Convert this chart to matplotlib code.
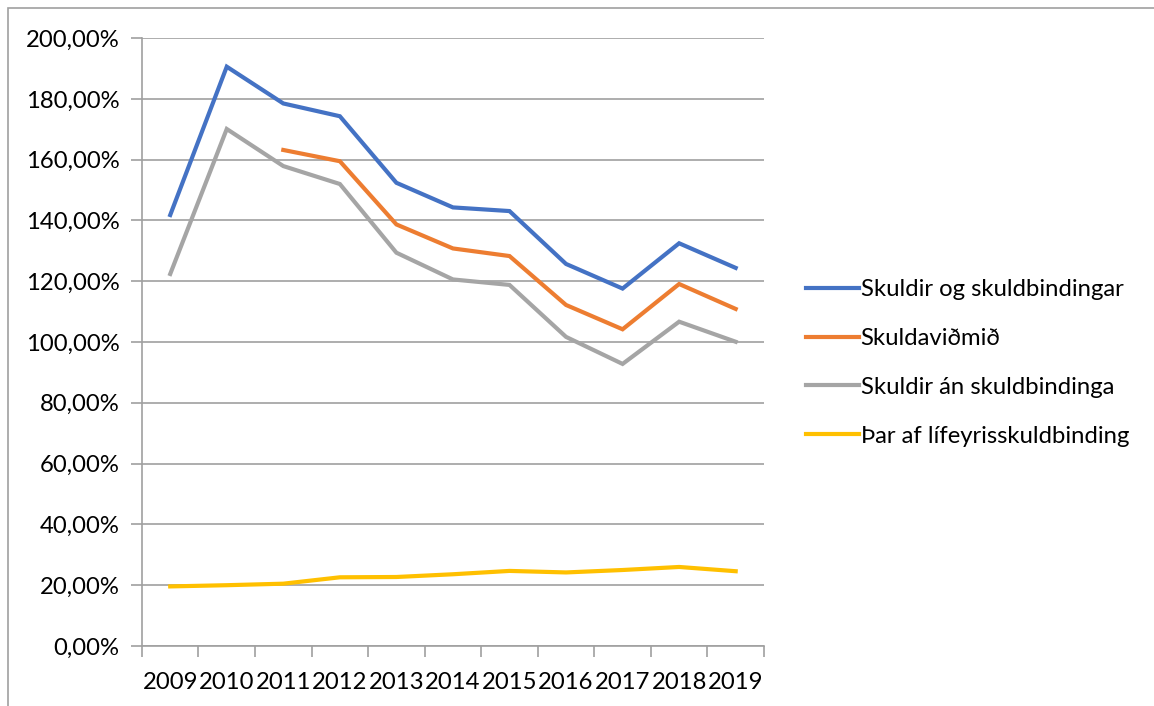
import numpy as np
import matplotlib.pyplot as plt
from matplotlib.patches import Rectangle

# Data (percent)
years = ['2009', '2010', '2011', '2012', '2013', '2014', '2015', '2016', '2017', '2018', '2019']
skuldir_og = [141.8, 190.6, 178.5, 174.3, 152.4, 144.3, 143.1, 125.7, 117.6, 132.5, 124.4]
skuldavidmid = [np.nan, np.nan, 163.2, 159.5, 138.7, 130.8, 128.3, 112.2, 104.2, 119.1, 110.9]
skuldir_an = [122.4, 170.1, 157.9, 152.0, 129.4, 120.6, 118.8, 101.7, 92.8, 106.7, 100.1]
lifeyris = [19.6, 20.0, 20.5, 22.6, 22.7, 23.6, 24.7, 24.2, 25.0, 26.0, 24.6]
labels = ['Skuldir og skuldbindingar', 'Skuldaviðmið',
          'Skuldir án skuldbindinga', 'Þar af lífeyrisskuldbinding']
colors = ['#4472C4', '#ED7D31', '#A5A5A5', '#FFC000']

plt.rcParams['font.family'] = ['Lato', 'DejaVu Sans']
fsize = 17.2

fig = plt.figure(figsize=(11.54, 7.06), dpi=100)
ax = fig.add_axes([0.123, 0.085, 0.539, 0.861])

x = np.arange(len(years))
series = [skuldir_og, skuldavidmid, skuldir_an, lifeyris]
for vals, lab, col in zip(series, labels, colors):
    ax.plot(x, vals, color=col, lw=3, label=lab, solid_joinstyle='miter')

ax.set_xlim(-0.5, len(years) - 0.5)
ax.set_ylim(0, 200)
ax.set_yticks(np.arange(0, 201, 20))
ax.set_yticklabels([f'{v:.2f}%'.replace('.', ',') for v in range(0, 201, 20)])
ax.yaxis.grid(True, color='#a0a0a0', lw=1.2)
ax.set_axisbelow(True)

# category ticks on boundaries, labels in the middle
ax.set_xticks(np.arange(-0.5, len(years)), minor=False)
ax.set_xticklabels([])
ax.set_xticks(x, minor=True)
ax.set_xticklabels(years, minor=True)
ax.tick_params(axis='x', which='major', length=8, color='#a0a0a0', width=1.2)
ax.tick_params(axis='x', which='minor', length=0, pad=19, labelsize=fsize)
ax.tick_params(axis='y', length=8, color='#a0a0a0', width=1.2, pad=8, labelsize=fsize)

for s in ['top', 'right']:
    ax.spines[s].set_visible(False)
for s in ['left', 'bottom']:
    ax.spines[s].set_color('#a0a0a0')
    ax.spines[s].set_linewidth(1.2)

fig.legend(loc='center left', bbox_to_anchor=(0.68, 0.486), frameon=False,
           fontsize=fsize, handlelength=2.2, handletextpad=0.08, labelspacing=1.17)

# outer chart border (only top/left are visible in the reference)
fig.patches.append(Rectangle((8 / 1154, -0.1), 1.2, 1 - 8 / 706 + 0.1,
                             transform=fig.transFigure, fill=False,
                             edgecolor='#a0a0a0', lw=1.2))

plt.savefig('out.png', dpi=100)
